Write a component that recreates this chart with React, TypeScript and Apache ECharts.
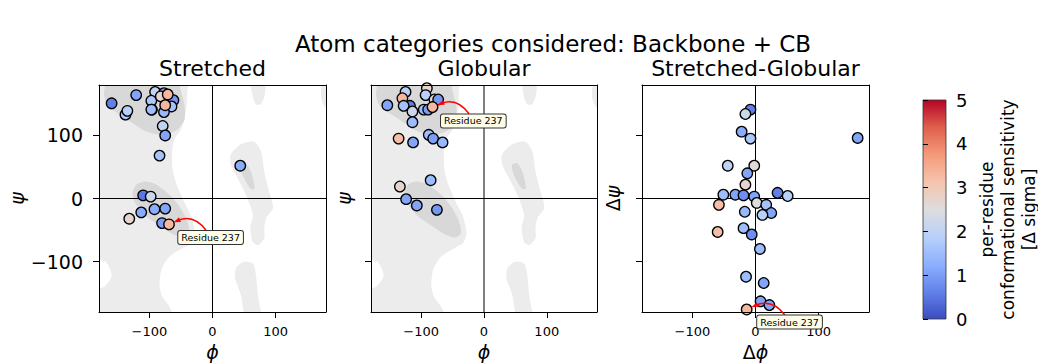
import React, { useEffect, useRef } from 'react';
import * as echarts from 'echarts';

const FONT = "'DejaVu Sans', sans-serif";

const MAIN_TITLE = 'Atom categories considered: Backbone + CB';
const PANEL_TITLES = ['Stretched', 'Globular', 'Stretched-Globular'];
const X_NAMES = ['{i|\u03d5}', '{i|\u03d5}', '{u|Δ}{i|\u03d5}'];
const Y_NAMES = ['{i|ψ}', '{i|ψ}', '{u|Δ}{i|ψ}'];
const AXIS_TICKS = [-100, 0, 100];
const CBAR_MIN = 0;
const CBAR_MAX = 5;
const CBAR_LABEL = 'per-residue\nconformational sensitivity\n[Δ sigma]';
const ANNOT_LABEL = 'Residue 237';

// coolwarm colour map samples
const COOLWARM = ['#3b4cc0', '#6282ea', '#8db0fe', '#b8d0f9', '#dddddd', '#f5c4ad', '#f49a7b', '#de604d', '#b40426'];

// Panel 1: Stretched (phi, psi, sensitivity)
const STRETCHED_PHI = [-160, -121, -138, -135, -91, -97, -96, -97, -77, -82, -62, -65, -77, -79, -75, -84, 44, -110, -98, -113, -132, -92, -75, -80, -71, -75, -69];
const STRETCHED_PSI = [151, 164, 133, 139, 169, 155, 141, 141, 167, 162, 156, 146, 137, 115, 100, 68, 52, 5, 3, -22, -32, -17, -16, -39, 165, 148, -41];
const STRETCHED_VAL = [0.6, 1.1, 1.7, 1.9, 2.0, 1.7, 1.4, 1.5, 1.0, 2.7, 0.9, 1.6, 1.4, 2.0, 1.1, 1.6, 1.2, 0.5, 2.2, 1.2, 2.7, 1.2, 1.1, 1.0, 3.3, 3.3, 3.3];

// Panel 2: Globular
const GLOBULAR_PHI = [-154, -118, -125, -130, -128, -114, -114, -91, -93, -79, -73, -96, -89, -136, -113, -88, -81, -66, -85, -134, -124, -107, -75, -82];
const GLOBULAR_PSI = [148, 147, 169, 159, 147, 138, 121, 175, 164, 157, 157, 141, 141, 95, 89, 101, 95, 89, 29, 19, -1, -11, -18, 145];
const GLOBULAR_VAL = [1.1, 0.6, 1.9, 3.3, 1.6, 2.2, 1.5, 2.7, 1.9, 2.6, 0.9, 1.5, 1.0, 3.2, 1.1, 1.5, 1.0, 1.4, 1.5, 2.7, 1.1, 1.1, 0.9, 3.3];

// Panel 3: Stretched-Globular (delta phi, delta psi)
const DIFF_PHI = [-8, -16, -22, -8, 162, -44, -2, -13, -16, -51, -32, -19, -2, 35, 51, -58, 2, 17, 25, 11, -17, -60, -19, -6, 7, -15, 13, 8, 22, -14];
const DIFF_PSI = [141, 134, 106, 95, 96, 52, 52, 40, 22, 6, 6, 5, 3, 9, 4, -10, -7, -10, -23, -26, -21, -53, -47, -57, -80, -124, -134, -163, -169, -176];
const DIFF_VAL = [0.6, 2.2, 1.2, 1.7, 1.1, 2.0, 2.6, 1.1, 2.7, 1.5, 1.1, 0.8, 1.1, 0.6, 1.9, 3.2, 2.5, 1.6, 1.1, 1.9, 1.4, 3.2, 1.5, 0.8, 1.5, 1.5, 1.1, 1.1, 1.1, 3.3];

// Annotation: label box centre and target (data coordinates of each panel)
const ANNOT_BOX = [[-3, -62], [-17, 123], [54, -196]];
const ANNOT_TARGET = [[-69, -41], [-82, 145], [-14, -176]];

// Ramachandran reference density contours (phi, psi)
const LIGHT_MAIN = [[-200, 200], [-40, 200], [-40, 170], [-42, 140], [-50, 110], [-60, 95], [-64, 75], [-63, 45], [-56, 20], [-45, -5], [-33, -30], [-28, -55], [-33, -70], [-50, -80], [-68, -92], [-80, -110], [-84, -135], [-80, -155], [-68, -172], [-60, -200], [-200, -200], [-200, -150], [-172, -140], [-160, -122], [-170, -100], [-200, -92]];
const LIGHT_LHELIX = [[29, 70], [45, 86], [66, 90], [77, 75], [82, 43], [90, 11], [96, -15], [85, -31], [82, -47], [82, -63], [72, -74], [64, -69], [60, -47], [64, -26], [53, 6], [40, 32], [29, 54]];
const LIGHT_BOTTOM = [[37, -111], [50, -100], [64, -103], [69, -122], [72, -153], [78, -200], [55, -200], [45, -153], [36, -127]];
const LIGHT_TOP = [[60, 200], [83, 200], [83, 165], [77, 150], [69, 149], [64, 160]];
const LIGHT_EDGE = [[176, 190], [200, 190], [200, 140], [178, 146], [172, 162]];
const DARK_BETA = [[-172, 168], [-160, 200], [-60, 200], [-50, 170], [-44, 144], [-45, 123], [-59, 107], [-81, 101], [-107, 107], [-139, 128], [-166, 147]];
const DARK_ALPHA = [[-121, 22], [-107, 27], [-89, 22], [-65, 3], [-48, -20], [-38, -42], [-37, -56], [-47, -62], [-64, -56], [-85, -42], [-105, -28], [-121, -10], [-127, 8]];
const DARK_LHELIX = [[45, 54], [53, 56], [61, 43], [67, 16], [61, 15], [50, 32], [45, 46]];

const LIGHT = '#ececec';
const DARK = '#d8d8d8';
const CONTOURS = [
  { pts: LIGHT_MAIN, fill: LIGHT },
  { pts: LIGHT_LHELIX, fill: LIGHT },
  { pts: LIGHT_BOTTOM, fill: LIGHT },
  { pts: LIGHT_TOP, fill: LIGHT },
  { pts: LIGHT_EDGE, fill: LIGHT },
  { pts: DARK_BETA, fill: DARK },
  { pts: DARK_ALPHA, fill: DARK },
  { pts: DARK_LHELIX, fill: DARK },
];

const GRIDS = [
  { left: 99, top: 85, width: 227, height: 227 },
  { left: 371, top: 85, width: 226, height: 227 },
  { left: 642, top: 85, width: 227, height: 227 },
  { left: 923, top: 100, width: 23, height: 219 },
];

const minusFmt = (v: number) => (v < 0 ? '\u2212' + Math.abs(v) : String(v));
const BLACK = '#000';

function makeBg(polys: { pts: number[][]; fill: string }[]) {
  return (_params: any, api: any) => {
    const children: any[] = polys.map((p) => ({
      type: 'polygon',
      shape: { points: p.pts.map((q) => api.coord(q)), smooth: 0.25 },
      style: { fill: p.fill, stroke: 'none' },
    }));
    const a = api.coord([-180, 0]);
    const b = api.coord([180, 0]);
    const c = api.coord([0, -180]);
    const d = api.coord([0, 180]);
    children.push({ type: 'line', shape: { x1: a[0], y1: a[1], x2: b[0], y2: b[1] }, style: { stroke: BLACK, lineWidth: 1 } });
    children.push({ type: 'line', shape: { x1: c[0], y1: c[1], x2: d[0], y2: d[1] }, style: { stroke: BLACK, lineWidth: 1 } });
    return { type: 'group', children };
  };
}

const HW = 33;
const HH = 7;
function renderAnnot(_params: any, api: any) {
  const c = api.coord([api.value(0), api.value(1)]);
  const t = api.coord([api.value(2), api.value(3)]);
  const f = 0.5;
  const mx = (c[0] + t[0]) / 2;
  const my = (c[1] + t[1]) / 2;
  const dx = t[0] - c[0];
  const dy = t[1] - c[1];
  const p1 = [mx - f * dy, my + f * dx];
  const bl = (u: number, v: number) => [
    (1 - u) * (1 - v) * c[0] + ((1 - u) * v + u * (1 - v)) * p1[0] + u * v * t[0],
    (1 - u) * (1 - v) * c[1] + ((1 - u) * v + u * (1 - v)) * p1[1] + u * v * t[1],
  ];
  let a = 0;
  while (a < 1) {
    const p = bl(a, a);
    if (Math.abs(p[0] - c[0]) > HW || Math.abs(p[1] - c[1]) > HH) break;
    a += 0.005;
  }
  let b = 1;
  while (b > a) {
    const p = bl(b, b);
    if (Math.hypot(p[0] - t[0], p[1] - t[1]) > 5) break;
    b -= 0.005;
  }
  const P0 = bl(a, a);
  const Q = bl(a, b);
  const P2 = bl(b, b);
  let ux = P2[0] - Q[0];
  let uy = P2[1] - Q[1];
  const L = Math.hypot(ux, uy) || 1;
  ux /= L;
  uy /= L;
  const AL = 7;
  const AW = 5;
  const bx = P2[0] - ux * AL;
  const by = P2[1] - uy * AL;
  const nx = -uy;
  const ny = ux;
  return {
    type: 'group',
    children: [
      {
        type: 'bezierCurve',
        shape: { x1: P0[0], y1: P0[1], x2: bx + ux * 2, y2: by + uy * 2, cpx1: Q[0], cpy1: Q[1] },
        style: { stroke: '#ff0000', lineWidth: 1.5, fill: 'none' },
      },
      {
        type: 'polygon',
        shape: { points: [[P2[0], P2[1]], [bx + nx * AW / 2, by + ny * AW / 2], [bx - nx * AW / 2, by - ny * AW / 2]] },
        style: { fill: '#ff0000', stroke: 'none' },
      },
      {
        type: 'text',
        x: c[0],
        y: c[1],
        style: {
          text: ANNOT_LABEL,
          fontSize: 9.5,
          fontFamily: FONT,
          fill: '#000',
          align: 'center',
          verticalAlign: 'middle',
          backgroundColor: '#fdfdea',
          borderColor: '#333',
          borderWidth: 1,
          borderRadius: 2,
          padding: [2, 3, 1, 3],
        },
      },
    ],
  };
}

function renderCbar(_params: any, api: any) {
  const p = api.coord([0, CBAR_MAX]);
  const q = api.coord([1, CBAR_MIN]);
  const stops = COOLWARM.map((col, i) => ({ offset: i / (COOLWARM.length - 1), color: col }));
  return {
    type: 'rect',
    shape: { x: p[0], y: p[1], width: q[0] - p[0], height: q[1] - p[1] },
    style: { fill: new echarts.graphic.LinearGradient(0, 1, 0, 0, stops), stroke: '#333', lineWidth: 0.8 },
  };
}

export default function App() {
  const ref = useRef<HTMLDivElement>(null);
  useEffect(() => {
    document.body.style.margin = '0';
    if (!ref.current) return;
    const chart = echarts.init(ref.current, undefined, { renderer: 'svg' });
    const axisLineStyle = { color: BLACK, width: 1 };
    const nameRich = {
      i: { fontSize: 19, lineHeight: 19, fontStyle: 'italic', fontFamily: FONT, color: BLACK },
      u: { fontSize: 19, lineHeight: 19, fontFamily: FONT, color: BLACK },
    };
    const xAxes: any[] = [];
    const yAxes: any[] = [];
    for (let i = 0; i < 3; i++) {
      xAxes.push({
        gridIndex: i, type: 'value', min: -180, max: 180, z: 6,
        axisLine: { show: true, onZero: false, lineStyle: axisLineStyle },
        axisTick: { show: true, customValues: AXIS_TICKS, length: 6, lineStyle: axisLineStyle },
        axisLabel: { customValues: AXIS_TICKS, formatter: minusFmt, fontSize: 13, margin: 13, color: BLACK, fontFamily: FONT },
        splitLine: { show: false },
        name: X_NAMES[i], nameLocation: 'middle', nameGap: 27,
        nameTextStyle: { fontSize: 19, lineHeight: 19, rich: nameRich },
      });
      xAxes.push({
        gridIndex: i, type: 'value', min: -180, max: 180, position: 'top', z: 6,
        axisLine: { show: true, onZero: false, lineStyle: axisLineStyle },
        axisTick: { show: false }, axisLabel: { show: false }, splitLine: { show: false },
      });
      yAxes.push({
        gridIndex: i, type: 'value', min: -180, max: 180, z: 6,
        axisLine: { show: true, onZero: false, lineStyle: axisLineStyle },
        axisTick: { show: true, customValues: AXIS_TICKS, length: 6, lineStyle: axisLineStyle },
        axisLabel: { show: i === 0, customValues: AXIS_TICKS, formatter: minusFmt, fontSize: 19, margin: 16, color: BLACK, fontFamily: FONT },
        splitLine: { show: false },
        name: Y_NAMES[i], nameLocation: 'middle', nameRotate: 90, nameGap: i === 0 ? 71 : i === 1 ? 18 : 20,
        nameTextStyle: { fontSize: 19, lineHeight: 19, rich: nameRich },
      });
      yAxes.push({
        gridIndex: i, type: 'value', min: -180, max: 180, position: 'right', z: 6,
        axisLine: { show: true, onZero: false, lineStyle: axisLineStyle },
        axisTick: { show: false }, axisLabel: { show: false }, splitLine: { show: false },
      });
    }
    // colorbar axes
    xAxes.push({ gridIndex: 3, type: 'value', min: 0, max: 1, show: false });
    yAxes.push({
      gridIndex: 3, type: 'value', position: 'right', min: CBAR_MIN, max: CBAR_MAX, interval: 1, z: 6,
      axisLine: { show: false },
      axisTick: { show: true, length: 5, lineStyle: axisLineStyle },
      axisLabel: { fontSize: 18, margin: 10, color: BLACK, fontFamily: FONT },
      splitLine: { show: false },
      name: CBAR_LABEL, nameLocation: 'middle', nameRotate: 90, nameGap: 30,
      nameTextStyle: { fontSize: 17, lineHeight: 21, fontFamily: FONT, color: BLACK, align: 'center' },
    });

    const panels = [
      { phi: STRETCHED_PHI, psi: STRETCHED_PSI, val: STRETCHED_VAL, bg: CONTOURS },
      { phi: GLOBULAR_PHI, psi: GLOBULAR_PSI, val: GLOBULAR_VAL, bg: CONTOURS },
      { phi: DIFF_PHI, psi: DIFF_PSI, val: DIFF_VAL, bg: [] as any[] },
    ];
    const series: any[] = [];
    panels.forEach((p, i) => {
      series.push({
        type: 'custom', xAxisIndex: i * 2, yAxisIndex: i * 2, clip: true, z: 1, silent: true,
        renderItem: makeBg(p.bg), data: [[0, 0]],
      });
    });
    panels.forEach((p, i) => {
      series.push({
        type: 'scatter', xAxisIndex: i * 2, yAxisIndex: i * 2, z: 3, symbolSize: 10.5,
        itemStyle: { borderColor: BLACK, borderWidth: 1.3, opacity: 1 },
        data: p.phi.map((x, k) => [x, p.psi[k], p.val[k]]),
      });
    });
    panels.forEach((_p, i) => {
      series.push({
        type: 'custom', xAxisIndex: i * 2, yAxisIndex: i * 2, clip: false, z: 8, silent: true,
        renderItem: renderAnnot,
        data: [[ANNOT_BOX[i][0], ANNOT_BOX[i][1], ANNOT_TARGET[i][0], ANNOT_TARGET[i][1]]],
      });
    });
    series.push({
      type: 'custom', xAxisIndex: 6, yAxisIndex: 6, clip: false, z: 2, silent: true,
      renderItem: renderCbar, data: [[0, 0]],
    });

    const titles: any[] = [
      { text: MAIN_TITLE, left: 553, top: 32, textAlign: 'center', padding: 0, textStyle: { fontSize: 23, fontWeight: 'normal', color: BLACK, fontFamily: FONT } },
    ];
    PANEL_TITLES.forEach((t, i) => {
      titles.push({
        text: t, left: GRIDS[i].left + GRIDS[i].width / 2, top: 57, textAlign: 'center', padding: 0,
        textStyle: { fontSize: 22, fontWeight: 'normal', color: BLACK, fontFamily: FONT },
      });
    });

    chart.setOption({
      animation: false,
      backgroundColor: '#fff',
      textStyle: { fontFamily: FONT },
      title: titles,
      grid: GRIDS.map((g) => ({ ...g, containLabel: false, outerBoundsMode: 'none' })),
      xAxis: xAxes,
      yAxis: yAxes,
      visualMap: {
        type: 'continuous', show: false, min: CBAR_MIN, max: CBAR_MAX, dimension: 2,
        seriesIndex: [3, 4, 5], inRange: { color: COOLWARM },
      },
      series,
    });
    return () => chart.dispose();
  }, []);
  return <div ref={ref} style={{ width: 1038, height: 363 }} />;
}
